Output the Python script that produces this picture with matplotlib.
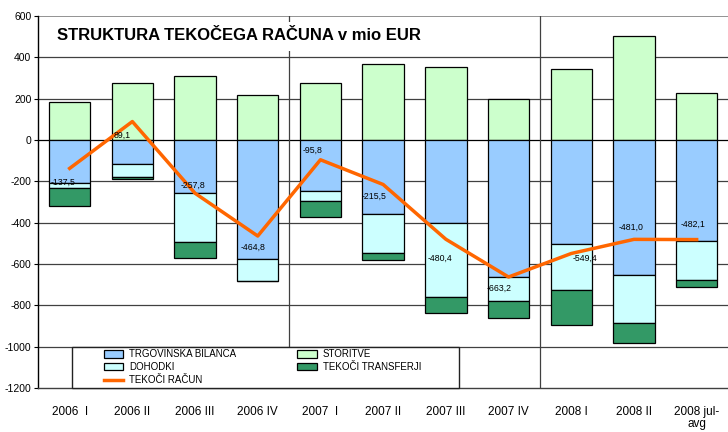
import matplotlib
matplotlib.use("Agg")
import matplotlib.pyplot as plt
from matplotlib.patches import Rectangle
import numpy as np

# podatki (mio EUR)
quarters = ['2006  I', '2006 II', '2006 III', '2006 IV', '2007  I', '2007 II',
            '2007 III', '2007 IV', '2008 I', '2008 II', '2008 jul-\navg']
storitve = [184, 277, 311, 216, 274, 366, 353, 197, 342, 502, 226]
trgovinska = [-207, -118, -258, -574, -245, -360, -402, -665, -505, -655, -490]
dohodki = [-24, -63, -237, -108, -49, -187, -356, -114, -222, -232, -189]
transferji = [-89, -10, -77, 0, -77, -35, -78, -82, -167, -97, -31]
tekoci_racun = [-137.5, 89.1, -257.8, -464.8, -95.8, -215.5, -480.4, -663.2, -549.4, -481.0, -482.1]

# odmiki oznak (v tockah)
label_off = [(-4.7, -9.8), (-7.2, -9.6), (-1.2, 6.0), (-3.2, -8.4), (-5.8, 7.1), (-6.5, -8.8),
             (-4.0, -13.7), (-6.5, -8.1), (9.8, -3.7), (-2.3, 8.4), (-2.9, 11.0)]

font = 'Liberation Sans'

fig = plt.figure(figsize=(7.28, 4.32), dpi=100)
ax = fig.add_axes([0.0526, 0.102, 0.9474, 0.861])

x = np.arange(len(quarters))
w = 0.66
ec = dict(edgecolor='black', linewidth=0.9, zorder=3)

ax.bar(x, storitve, w, color='#CCFFCC', label='STORITVE', **ec)
ax.bar(x, trgovinska, w, color='#99CCFF', label='TRGOVINSKA BILANCA', **ec)
b1 = np.array(trgovinska)
ax.bar(x, dohodki, w, bottom=b1, color='#CCFFFF', label='DOHODKI', **ec)
b2 = b1 + np.array(dohodki)
ax.bar(x, transferji, w, bottom=b2, color='#339966', label='TEKOČI TRANSFERJI', **ec)

ax.plot(x, tekoci_racun, color='#FF6600', linewidth=2.5, zorder=4, label='TEKOČI RAČUN')

for xi, v, off in zip(x, tekoci_racun, label_off):
    ax.annotate(f"{v:.1f}".replace('.', ','), (xi, v), xytext=off, textcoords='offset points',
                ha='center', va='center', fontsize=6.3, family=font, zorder=6)

ax.set_xlim(-0.5, len(quarters) - 0.5)
ax.set_ylim(-1200, 600)
ax.set_yticks(np.arange(-1200, 601, 200))
ax.set_yticklabels([str(t) for t in range(-1200, 601, 200)], family=font, fontsize=7.5)
ax.set_xticks(x)
ax.set_xticklabels(quarters, family=font, fontsize=8.5, linespacing=1.0)
ax.tick_params(axis='x', length=0, pad=13)
ax.tick_params(axis='y', length=3, width=0.8, pad=2, direction='out')

for yv in range(-1000, 600, 200):
    ax.axhline(yv, color='black' if yv == 0 else '#404040', linewidth=0.9, zorder=1)
ax.axhline(600, color='#808080', linewidth=1.2, zorder=1)
for xv in (3.5, 7.5):
    ax.axvline(xv, color='#404040', linewidth=0.9, zorder=1)

for s in ('top', 'right'):
    ax.spines[s].set_visible(False)
ax.spines['left'].set_linewidth(1)
ax.spines['bottom'].set_color('#404040')
ax.spines['bottom'].set_linewidth(1)

# okvir legende
ax.add_patch(Rectangle((0.0489, 0.0), 0.561, 0.111, transform=ax.transAxes,
                       facecolor='white', edgecolor='#222222', linewidth=1, zorder=5, clip_on=False))
h, l = ax.get_legend_handles_labels()
order = ['TRGOVINSKA BILANCA', 'DOHODKI', 'TEKOČI RAČUN', 'STORITVE', 'TEKOČI TRANSFERJI']
hd = dict(zip(l, h))
leg = ax.legend([hd[k] for k in order], order, ncol=2, loc='upper left',
                bbox_to_anchor=(0.092, 0.109), frameon=False, prop={'family': font, 'size': 7},
                handlelength=2.0, handleheight=0.75, handletextpad=0.6, labelspacing=0.3,
                columnspacing=6.3, borderpad=0.2, borderaxespad=0)
leg.set_zorder(6)

fig.text(57 / 728, 1 - 36 / 432, 'STRUKTURA TEKOČEGA RAČUNA v mio EUR', ha='left', va='center',
         fontsize=12, fontweight='bold', family=font,
         bbox=dict(facecolor='white', edgecolor='none', pad=5))

fig.savefig('out.png', dpi=100)
